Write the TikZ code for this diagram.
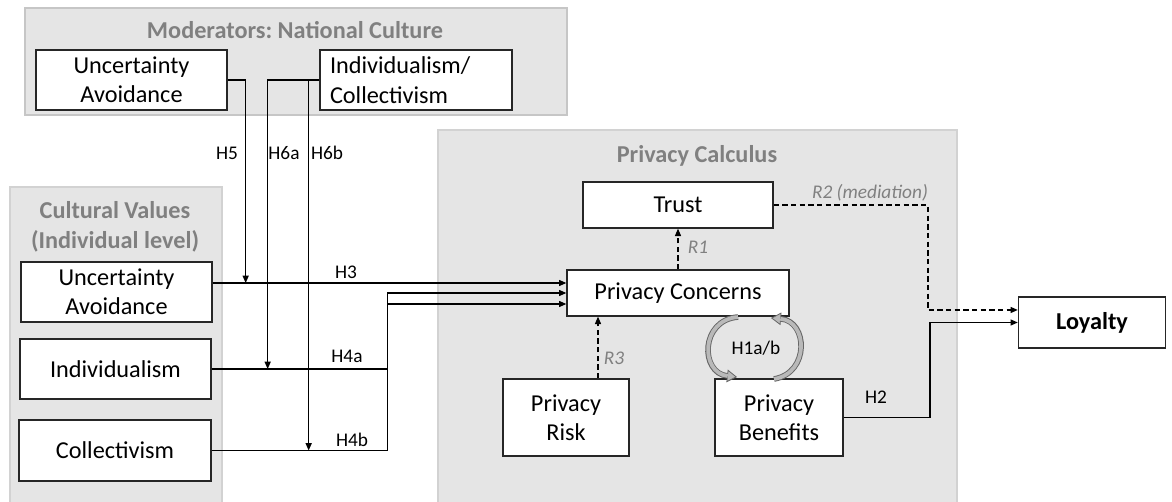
\documentclass[tikz,border=0pt]{standalone}
\usepackage{fontspec}
\setmainfont{Carlito}
\usetikzlibrary{arrows.meta}

\begin{document}
\begin{tikzpicture}[
    x=0.75pt, y=-0.75pt,
    font=\fontsize{18.2}{22}\selectfont,
    % Styles
    panel/.style={draw=gray!45, fill=gray!20, line width=0.8pt},
    paneltitle/.style={
        text=gray, align=center,
        font=\fontsize{18.2}{22.5}\selectfont\bfseries
    },
    construct/.style={
        draw=black!85, fill=white, line width=1pt,
        align=center, inner sep=2pt
    },
    hyp/.style={font=\fontsize{14.5}{17}\selectfont},
    res/.style={font=\fontsize{14.5}{17}\selectfont\itshape, text=gray},
    arrow/.style={-{Triangle[length=5.5pt, width=4.5pt]}, line width=1pt},
    dasharrow/.style={arrow, dash pattern=on 4pt off 2.5pt},
    loopband/.style={
        line width=4.2pt, draw=black!60,
        -{Triangle[length=7.5pt, width=9.5pt, line width=0.6pt, fill=gray!55]}
    },
    loopfill/.style={line width=2.8pt, draw=gray!55, shorten >=7pt}
]

    \useasboundingbox (0,0) rectangle (1172,501);
    \clip (0,0) rectangle (1172,501);

    % --- Panels ---
    \draw[panel] (25,8) rectangle (567,115);
    \draw[panel, line width=1.5pt, draw=gray!35] (10,187) rectangle (222,520);
    \draw[panel, line width=2pt, draw=gray!35] (438,130) rectangle (957,520);

    \node[paneltitle] (modtitle) at (295,30) {Moderators:\ National Culture};
    \node[paneltitle] (cultitle) at (115,227) {Cultural Values\\(Individual level)};
    \node[paneltitle] (calctitle) at (697,156) {Privacy Calculus};

    % --- Moderators: national level ---
    \node[construct, minimum width=143.25pt, minimum height=45pt] (modUA)
        at (131.5,80) {Uncertainty\\Avoidance};
    \node[construct, minimum width=144pt, minimum height=45pt,
          align=left, inner xsep=7.5pt, text width=129pt] (modIC)
        at (416,80) {Individualism/\\Collectivism};

    % --- Cultural values: individual level ---
    \node[construct, minimum width=143.25pt, minimum height=45pt] (culUA)
        at (116.5,292) {Uncertainty\\Avoidance};
    \node[construct, minimum width=143.25pt, minimum height=45pt] (culInd)
        at (115.5,369) {Individualism};
    \node[construct, minimum width=144pt, minimum height=45.75pt] (culCol)
        at (115,450.5) {Collectivism};

    % --- Privacy calculus ---
    \node[construct, minimum width=142.5pt, minimum height=34.5pt] (trust)
        at (678,205) {Trust};
    \node[construct, minimum width=166.5pt, minimum height=34.5pt] (concerns)
        at (678,293) {Privacy Concerns};
    \node[construct, minimum width=94.5pt, minimum height=57.75pt] (risk)
        at (566,417.5) {Privacy\\Risk};
    \node[construct, minimum width=96pt, minimum height=57.75pt] (benefits)
        at (779,417.5) {Privacy\\Benefits};

    % --- Outcome ---
    \node[construct, minimum width=110.25pt, minimum height=38.25pt,
          font=\fontsize{18.2}{22}\selectfont\bfseries] (loyalty)
        at (1092,322.5) {Loyalty};

    % --- Direct effects ---
    \coordinate (h3from) at ([yshift=6.75pt]culUA.east);
    \coordinate (h4ato) at ([yshift=-8.25pt]concerns.west);
    \draw[arrow] (h3from) -- (h3from -| concerns.west);
    \draw[arrow] (culInd.east) -| ([xshift=-134.25pt]h4ato) -- (h4ato);
    \draw[arrow] (culCol.east) -| ([xshift=-134.25pt]concerns.west) -- (concerns.west);
    \draw[arrow] (benefits.east) -| ([xshift=-66pt]loyalty.west) -- (loyalty.west);

    % --- Moderating effects ---
    \draw[arrow] (modUA.east) -| ([xshift=24.75pt]h3from);
    \draw[arrow] (modIC.west) -| ([xshift=42pt]culInd.east);
    \draw[arrow] (modIC.west) -| ([xshift=72.75pt]culCol.east);

    % --- Research questions (dashed) ---
    \coordinate (r3) at ([xshift=24pt]risk.north);
    \coordinate (r2in) at ([yshift=9.4pt]loyalty.west);
    \draw[dasharrow] (concerns.north) -- (trust.south);
    \draw[dasharrow] (r3) -- (r3 |- concerns.south);
    \draw[dasharrow] (trust.east) -| ([xshift=-67.5pt]r2in) -- (r2in);

    % --- Reciprocal loop between concerns and benefits ---
    \draw[loopband] (738,317) .. controls (700,320) and (700,373) .. (737,377);
    \draw[loopfill] (738,317) .. controls (700,320) and (700,373) .. (737,377);
    \draw[loopband] (774,379) .. controls (810,373) and (808,321) .. (771,318);
    \draw[loopfill] (774,379) .. controls (810,373) and (808,321) .. (771,318);

    % --- Labels ---
    \node[hyp] (lH5) at (227,153) {H5};
    \node[hyp] (lH6a) at (284,153) {H6a};
    \node[hyp] (lH6b) at (327,153) {H6b};
    \node[hyp] (lH3) at (346,272) {H3};
    \node[hyp] (lH4a) at (347,356) {H4a};
    \node[hyp] (lH4b) at (352,440) {H4b};
    \node[hyp] (lH1) at (756,348) {H1a/b};
    \node[hyp] (lH2) at (876,397) {H2};
    \node[res] (lR1) at (698,247) {R1};
    \node[res] (lR3) at (614,358) {R3};
    \node[res] (lR2) at (870,193) {R2 (mediation)};

\end{tikzpicture}
\end{document}
